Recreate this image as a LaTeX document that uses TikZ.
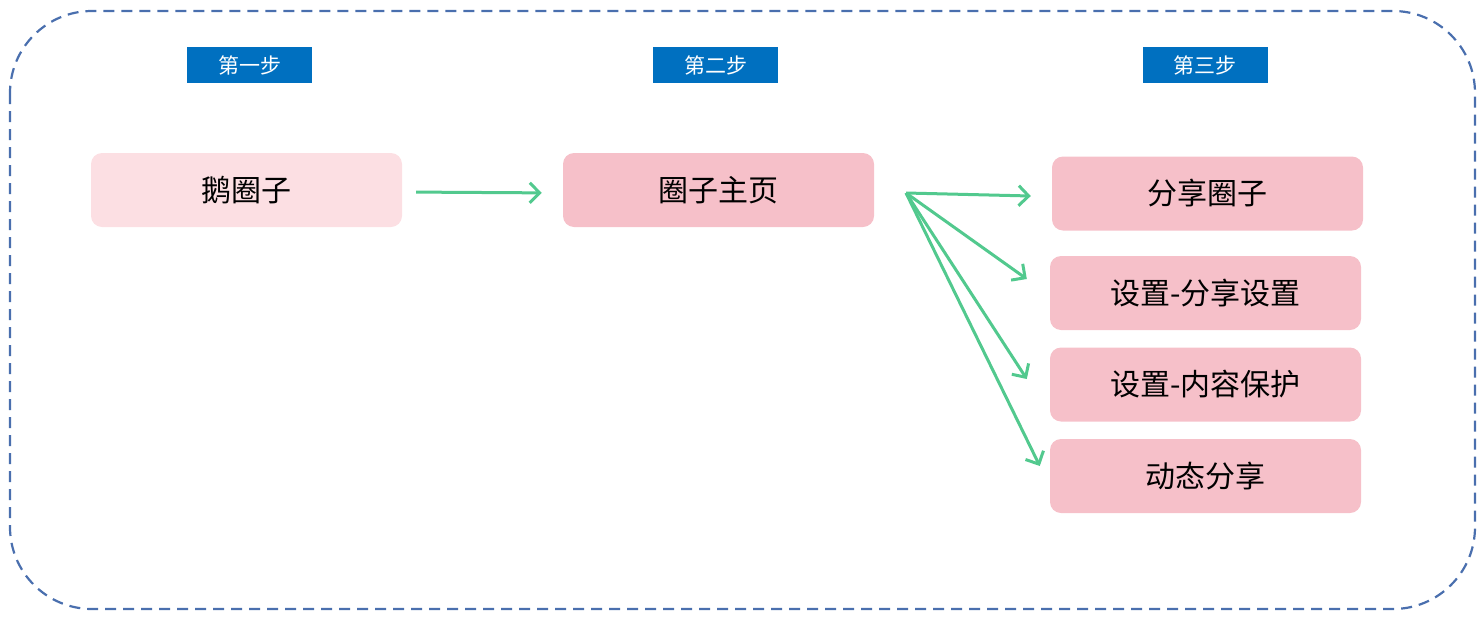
\documentclass[tikz,border=0pt]{standalone}
\usepackage{fontspec}
\setmainfont{Noto Sans CJK SC}
\usepackage{xcolor}
\usepackage{tikz}
\usetikzlibrary{arrows.meta,positioning}
\definecolor{stepblue}{HTML}{0070C0}
\definecolor{pinklt}{HTML}{FCDFE3}
\definecolor{pinkbox}{HTML}{F6C0C9}
\definecolor{arrowgreen}{HTML}{52C98E}
\definecolor{frameblue}{HTML}{4A6FAE}

\begin{document}
\begin{tikzpicture}[
    x=1pt,y=-1pt,
    p/.style={fill=pinkbox, rounded corners=11pt, minimum width=311pt,
              minimum height=74pt, inner sep=0pt, font=\fontsize{30}{34}\selectfont},
    s/.style={fill=stepblue, text=white, minimum width=125pt, minimum height=36pt,
              inner sep=0pt, font=\fontsize{21}{24}\selectfont},
    a/.style={-{Straight Barb[length=10pt,width=20pt]}, draw=arrowgreen, line width=3pt}
]
\useasboundingbox (0,0) rectangle (1484,619);
% Outer dashed frame
\draw[frameblue, line width=2.2pt, dash pattern=on 11pt off 7pt, rounded corners=82pt]
    (10,11) rectangle (1475,609);

% Step labels
\node[s] (s1) at (249.5,65) {第一步};
\node[s] (s2) at (715.5,65) {第二步};
\node[s] (s3) at (1205,65) {第三步};

% Boxes
\node[p, fill=pinklt] (quan) at (246.5,190) {鹅圈子};
\node[p] (home) at (718.5,190) {圈子主页};
\node[p] (share) at (1207.5,193.5) {分享圈子};
\node[p] (shareset) at (1205.5,293) {设置-分享设置};
\node[p] (protect) at (1205.5,384.5) {设置-内容保护};
\node[p] (moment) at (1205.5,476) {动态分享};

% Fork point and arrow ends
\coordinate (fork) at (906,193);
\coordinate (e1) at ([xshift=-21pt,yshift=-2.5pt]share.west);
\coordinate (e2) at ([xshift=-23pt,yshift=14pt]shareset.west);
\coordinate (e3) at ([xshift=-23pt,yshift=5.5pt]protect.west);
\coordinate (e4) at ([xshift=-10pt,yshift=10pt]moment.west);

\draw[a, shorten <=14pt, shorten >=21pt] ([yshift=-2pt]quan.east) -- ([yshift=-3pt]home.west);
\draw[a] (fork) -- (e1);
\draw[a] (fork) -- (e2);
\draw[a] (fork) -- (e3);
\draw[a] (fork) -- (e4);
\end{tikzpicture}
\end{document}
